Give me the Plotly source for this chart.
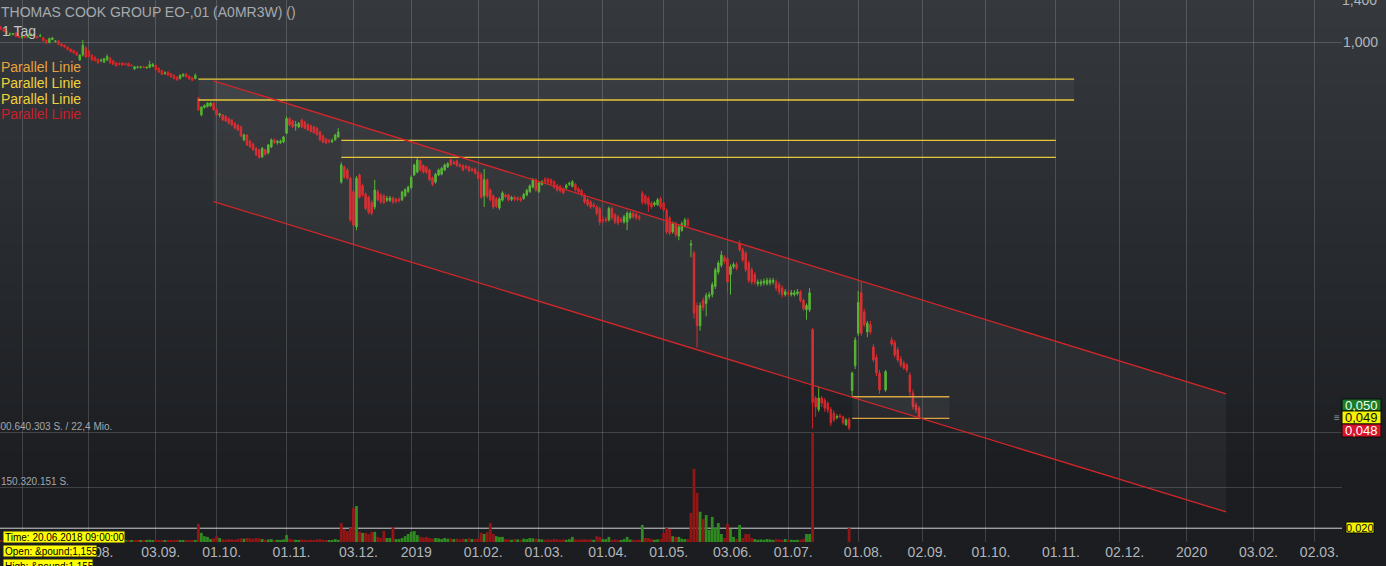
import math
import pandas as pd
import plotly.graph_objects as go

# ---------------- data ----------------
CAL_START = "2018-06-20"
CAL_END = "2020-03-31"
HOLIDAYS = ["2018-08-27", "2018-12-25", "2018-12-26", "2019-01-01", "2019-04-19",
            "2019-04-22", "2019-05-06", "2019-05-27", "2019-08-26", "2019-12-25"]

TICK_DATES = ["2018-07-02", "2018-08-01", "2018-09-03", "2018-10-01", "2018-11-01", "2018-12-03",
              "2019-01-02", "2019-02-01", "2019-03-01", "2019-04-01", "2019-05-01", "2019-06-03",
              "2019-07-01", "2019-08-01", "2019-09-02", "2019-10-01", "2019-11-01", "2019-12-02",
              "2020-01-02", "2020-02-03", "2020-03-02"]
TICK_LABELS = ["02.07.", "01.08.", "03.09.", "01.10.", "01.11.", "03.12.", "2019", "01.02.", "01.03.",
               "01.04.", "01.05.", "03.06.", "01.07.", "01.08.", "02.09.", "01.10.", "01.11.", "02.12.",
               "2020", "03.02.", "02.03."]

OPEN = [1.155, 1.128, 1.110, 1.090, 1.060, 1.062, 1.075, 1.050, 1.035, 1.050,
        1.040, 1.055, 1.066, 1.045, 1.048, 1.036, 1.015, 0.995, 1.020, 1.004,
        1.010, 0.985, 0.975, 0.960, 0.945, 0.935, 0.920, 0.865, 0.900, 0.955,
        0.930, 0.900, 0.885, 0.870, 0.860, 0.850, 0.865, 0.880, 0.860, 0.845,
        0.840, 0.845, 0.840, 0.843, 0.830, 0.805, 0.815, 0.815, 0.820, 0.812,
        0.815, 0.822, 0.830, 0.810, 0.795, 0.775, 0.785, 0.775, 0.765, 0.755,
        0.745, 0.760, 0.775, 0.760, 0.750, 0.745, 0.638, 0.556, 0.590, 0.595,
        0.598, 0.612, 0.580, 0.556, 0.556, 0.550, 0.540, 0.534, 0.520, 0.513,
        0.505, 0.455, 0.473, 0.450, 0.440, 0.425, 0.420, 0.397, 0.420, 0.410,
        0.430, 0.455, 0.445, 0.445, 0.447, 0.480, 0.540, 0.530, 0.510, 0.505,
        0.534, 0.525, 0.515, 0.510, 0.505, 0.500, 0.485, 0.470, 0.458, 0.452,
        0.448, 0.455, 0.466, 0.324, 0.366, 0.357, 0.334, 0.300, 0.226, 0.343,
        0.315, 0.294, 0.287, 0.275, 0.265, 0.300, 0.292, 0.290, 0.280, 0.280,
        0.285, 0.282, 0.282, 0.281, 0.290, 0.300, 0.310, 0.343, 0.351, 0.385,
        0.370, 0.365, 0.357, 0.335, 0.324, 0.343, 0.345, 0.357, 0.366, 0.387,
        0.380, 0.384, 0.372, 0.370, 0.368, 0.366, 0.360, 0.360, 0.350, 0.345,
        0.290, 0.330, 0.304, 0.290, 0.283, 0.263, 0.280, 0.292, 0.292, 0.282,
        0.286, 0.285, 0.284, 0.284, 0.292, 0.300, 0.311, 0.330, 0.300, 0.318,
        0.333, 0.332, 0.330, 0.325, 0.316, 0.313, 0.307, 0.309, 0.318, 0.313,
        0.318, 0.307, 0.303, 0.292, 0.281, 0.276, 0.270, 0.265, 0.262, 0.240,
        0.240, 0.239, 0.262, 0.249, 0.245, 0.240, 0.235, 0.235, 0.243, 0.252,
        0.250, 0.245, 0.297, 0.290, 0.285, 0.274, 0.270, 0.270, 0.284, 0.274,
        0.259, 0.243, 0.217, 0.232, 0.210, 0.220, 0.228, 0.239, 0.195, 0.183,
        0.120, 0.102, 0.125, 0.122, 0.129, 0.131, 0.140, 0.157, 0.166, 0.177,
        0.175, 0.154, 0.164, 0.167, 0.198, 0.188, 0.183, 0.169, 0.160, 0.154,
        0.143, 0.143, 0.144, 0.143, 0.144, 0.145, 0.145, 0.142, 0.138, 0.131,
        0.133, 0.131, 0.131, 0.132, 0.134, 0.125, 0.116, 0.116, 0.099, 0.057,
        0.052, 0.057, 0.056, 0.0547, 0.052, 0.0505, 0.0487, 0.0494, 0.049, 0.046,
        0.048, 0.0605, 0.074, 0.096, 0.133, 0.114, 0.097, 0.103, 0.086, 0.079,
        0.0697, None, 0.0608, None, 0.091, 0.089, 0.084, 0.078, 0.0755, 0.0744,
        0.0686, 0.0593, 0.054, 0.0526]

HIGH = [1.165, 1.140, 1.118, 1.095, 1.080, 1.076, 1.080, 1.056, 1.058, 1.055,
        1.066, 1.072, 1.070, 1.050, 1.068, 1.040, 1.020, 1.035, 1.040, 1.016,
        1.014, 0.990, 0.980, 0.965, 0.950, 0.940, 0.925, 0.905, 1.016, 0.965,
        0.935, 0.905, 0.890, 0.875, 0.875, 0.880, 0.905, 0.885, 0.865, 0.850,
        0.850, 0.850, 0.848, 0.848, 0.838, 0.825, 0.826, 0.825, 0.826, 0.822,
        0.860, 0.845, 0.834, 0.815, 0.800, 0.790, 0.790, 0.780, 0.770, 0.760,
        0.770, 0.778, 0.780, 0.765, 0.755, 0.775, 0.640, 0.595, 0.605, 0.615,
        0.618, 0.616, 0.585, 0.565, 0.560, 0.555, 0.545, 0.538, 0.525, 0.516,
        0.510, 0.478, 0.476, 0.455, 0.445, 0.430, 0.424, 0.430, 0.425, 0.440,
        0.460, 0.460, 0.455, 0.456, 0.470, 0.550, 0.545, 0.535, 0.530, 0.525,
        0.540, 0.530, 0.520, 0.515, 0.510, 0.505, 0.490, 0.474, 0.462, 0.458,
        0.460, 0.478, 0.500, 0.380, 0.370, 0.362, 0.338, 0.305, 0.340, 0.348,
        0.320, 0.298, 0.290, 0.280, 0.330, 0.305, 0.296, 0.294, 0.290, 0.290,
        0.288, 0.286, 0.286, 0.302, 0.308, 0.315, 0.342, 0.376, 0.395, 0.389,
        0.374, 0.369, 0.361, 0.339, 0.349, 0.361, 0.366, 0.376, 0.380, 0.395,
        0.386, 0.388, 0.378, 0.374, 0.372, 0.370, 0.364, 0.364, 0.354, 0.350,
        0.360, 0.334, 0.308, 0.294, 0.287, 0.287, 0.301, 0.296, 0.295, 0.290,
        0.290, 0.289, 0.288, 0.297, 0.307, 0.318, 0.335, 0.334, 0.326, 0.329,
        0.337, 0.336, 0.334, 0.329, 0.320, 0.317, 0.311, 0.320, 0.325, 0.329,
        0.322, 0.311, 0.307, 0.296, 0.285, 0.280, 0.274, 0.269, 0.266, 0.246,
        0.245, 0.266, 0.266, 0.253, 0.249, 0.244, 0.249, 0.256, 0.256, 0.256,
        0.254, 0.249, 0.302, 0.294, 0.289, 0.278, 0.278, 0.285, 0.288, 0.278,
        0.262, 0.247, 0.236, 0.236, 0.230, 0.236, 0.243, 0.243, 0.203, 0.186,
        0.123, 0.123, 0.128, 0.133, 0.134, 0.145, 0.163, 0.172, 0.186, 0.180,
        0.178, 0.167, 0.170, 0.170, 0.203, 0.191, 0.186, 0.172, 0.163, 0.157,
        0.148, 0.148, 0.149, 0.150, 0.150, 0.150, 0.148, 0.145, 0.141, 0.137,
        0.136, 0.136, 0.136, 0.137, 0.136, 0.127, 0.122, 0.138, 0.100, 0.058,
        0.0625, 0.058, 0.057, 0.0555, 0.053, 0.0515, 0.050, 0.0502, 0.0495, 0.0485,
        0.0488, 0.0705, 0.093, 0.135, 0.145, 0.117, 0.106, 0.106, 0.088, 0.081,
        0.0715, None, 0.0715, None, 0.093, 0.091, 0.086, 0.080, 0.077, 0.0755,
        0.070, 0.061, 0.055, 0.0535]

LOW = [1.120, 1.100, 1.082, 1.062, 1.050, 1.055, 1.040, 1.032, 1.030, 1.030,
       1.035, 1.050, 1.040, 1.028, 1.040, 1.005, 0.985, 0.990, 1.015, 0.996,
       0.975, 0.962, 0.955, 0.935, 0.920, 0.910, 0.895, 0.860, 0.890, 0.880,
       0.885, 0.860, 0.855, 0.840, 0.850, 0.845, 0.860, 0.840, 0.830, 0.820,
       0.828, 0.826, 0.828, 0.820, 0.820, 0.800, 0.808, 0.808, 0.810, 0.806,
       0.810, 0.818, 0.795, 0.780, 0.765, 0.770, 0.760, 0.750, 0.740, 0.732,
       0.740, 0.755, 0.750, 0.738, 0.730, 0.740, 0.574, 0.550, 0.585, 0.590,
       0.594, 0.575, 0.552, 0.545, 0.530, 0.526, 0.516, 0.508, 0.496, 0.488,
       0.466, 0.450, 0.433, 0.426, 0.416, 0.399, 0.391, 0.393, 0.400, 0.405,
       0.426, 0.440, 0.438, 0.440, 0.443, 0.476, 0.508, 0.500, 0.490, 0.500,
       0.500, 0.496, 0.489, 0.483, 0.478, 0.470, 0.450, 0.443, 0.440, 0.443,
       0.444, 0.452, 0.462, 0.320, 0.333, 0.330, 0.235, 0.195, 0.220, 0.283,
       0.288, 0.258, 0.250, 0.248, 0.260, 0.277, 0.272, 0.271, 0.276, 0.276,
       0.272, 0.273, 0.275, 0.278, 0.287, 0.297, 0.306, 0.340, 0.348, 0.353,
       0.347, 0.346, 0.326, 0.314, 0.320, 0.340, 0.342, 0.354, 0.363, 0.368,
       0.372, 0.366, 0.364, 0.353, 0.359, 0.351, 0.352, 0.344, 0.330, 0.283,
       0.265, 0.285, 0.277, 0.261, 0.263, 0.259, 0.277, 0.284, 0.277, 0.278,
       0.278, 0.278, 0.276, 0.281, 0.289, 0.297, 0.308, 0.300, 0.297, 0.315,
       0.320, 0.318, 0.316, 0.307, 0.300, 0.298, 0.293, 0.306, 0.314, 0.310,
       0.300, 0.295, 0.288, 0.272, 0.266, 0.261, 0.262, 0.248, 0.229, 0.233,
       0.234, 0.236, 0.239, 0.231, 0.229, 0.233, 0.232, 0.220, 0.240, 0.241,
       0.239, 0.238, 0.270, 0.270, 0.255, 0.261, 0.266, 0.267, 0.261, 0.255,
       0.213, 0.211, 0.214, 0.208, 0.203, 0.217, 0.225, 0.225, 0.177, 0.108,
       0.0856, 0.098, 0.115, 0.110, 0.126, 0.128, 0.137, 0.154, 0.163, 0.168,
       0.133, 0.131, 0.161, 0.159, 0.185, 0.170, 0.157, 0.144, 0.142, 0.142,
       0.140, 0.140, 0.141, 0.141, 0.141, 0.142, 0.135, 0.131, 0.128, 0.129,
       0.129, 0.129, 0.129, 0.130, 0.123, 0.115, 0.107, 0.114, 0.0446, 0.049,
       0.051, 0.053, 0.051, 0.0505, 0.0455, 0.047, 0.048, 0.0485, 0.046, 0.0455,
       0.044, 0.058, 0.072, 0.094, 0.094, 0.101, 0.093, 0.095, 0.076, 0.068,
       0.059, None, 0.060, None, 0.0865, 0.079, 0.076, 0.073, 0.0715, 0.070,
       0.058, 0.052, 0.0505, 0.048]

CLOSE = [1.128, 1.110, 1.090, 1.068, 1.066, 1.070, 1.045, 1.038, 1.050, 1.036,
         1.060, 1.066, 1.045, 1.034, 1.052, 1.010, 0.990, 1.028, 1.034, 1.008,
         0.980, 0.968, 0.960, 0.940, 0.925, 0.915, 0.900, 0.900, 0.975, 0.886,
         0.890, 0.865, 0.860, 0.845, 0.865, 0.875, 0.890, 0.845, 0.835, 0.825,
         0.836, 0.830, 0.835, 0.825, 0.828, 0.820, 0.818, 0.818, 0.815, 0.816,
         0.835, 0.836, 0.800, 0.785, 0.770, 0.780, 0.765, 0.755, 0.745, 0.737,
         0.765, 0.770, 0.755, 0.742, 0.735, 0.765, 0.579, 0.593, 0.600, 0.612,
         0.612, 0.579, 0.556, 0.560, 0.534, 0.530, 0.520, 0.513, 0.500, 0.493,
         0.470, 0.473, 0.437, 0.430, 0.420, 0.403, 0.395, 0.425, 0.405, 0.437,
         0.455, 0.445, 0.449, 0.450, 0.466, 0.540, 0.513, 0.505, 0.514, 0.520,
         0.505, 0.500, 0.493, 0.487, 0.482, 0.475, 0.455, 0.447, 0.444, 0.448,
         0.452, 0.473, 0.485, 0.372, 0.337, 0.334, 0.239, 0.229, 0.334, 0.287,
         0.292, 0.262, 0.254, 0.252, 0.304, 0.281, 0.276, 0.275, 0.284, 0.285,
         0.276, 0.277, 0.279, 0.299, 0.305, 0.311, 0.337, 0.372, 0.387, 0.357,
         0.351, 0.350, 0.330, 0.318, 0.345, 0.357, 0.362, 0.372, 0.376, 0.372,
         0.376, 0.370, 0.368, 0.357, 0.363, 0.355, 0.356, 0.348, 0.334, 0.287,
         0.330, 0.289, 0.281, 0.265, 0.267, 0.283, 0.297, 0.288, 0.281, 0.286,
         0.282, 0.282, 0.280, 0.293, 0.303, 0.314, 0.330, 0.304, 0.322, 0.325,
         0.324, 0.322, 0.320, 0.311, 0.304, 0.302, 0.297, 0.316, 0.321, 0.325,
         0.304, 0.299, 0.292, 0.276, 0.270, 0.265, 0.266, 0.252, 0.235, 0.237,
         0.238, 0.262, 0.243, 0.235, 0.233, 0.237, 0.245, 0.252, 0.252, 0.245,
         0.243, 0.242, 0.275, 0.274, 0.270, 0.265, 0.274, 0.281, 0.265, 0.259,
         0.217, 0.215, 0.232, 0.212, 0.226, 0.232, 0.239, 0.229, 0.197, 0.113,
         0.102, 0.120, 0.118, 0.130, 0.131, 0.142, 0.160, 0.169, 0.180, 0.171,
         0.145, 0.164, 0.167, 0.162, 0.188, 0.173, 0.160, 0.147, 0.145, 0.145,
         0.145, 0.145, 0.146, 0.147, 0.147, 0.147, 0.138, 0.134, 0.131, 0.134,
         0.132, 0.133, 0.133, 0.134, 0.125, 0.117, 0.120, 0.133, 0.055, 0.053,
         0.057, 0.0547, 0.0526, 0.0518, 0.0467, 0.0478, 0.0491, 0.049, 0.0467, 0.0478,
         0.0448, 0.0697, 0.091, 0.123, 0.096, 0.103, 0.104, 0.097, 0.0775, 0.0697,
         0.0608, None, 0.0705, None, 0.088, 0.0806, 0.0774, 0.0744, 0.0726, 0.0714,
         0.0598, 0.0532, 0.0518, 0.049]

VOLUME_MIO = [6, 5, 4, 5, 3, 4, 6, 5, 4, 3,
              5, 4, 6, 3, 4, 5, 7, 6, 4, 3,
              5, 4, 4, 6, 5, 3, 4, 8, 12, 7,
              6, 5, 4, 3, 4, 5, 6, 4, 5, 3,
              3, 4, 3, 4, 3, 5, 3, 4, 3, 4,
              6, 5, 4, 5, 3, 4, 3, 5, 4, 3,
              5, 4, 3, 4, 5, 5, 50, 25, 16, 14,
              8, 10, 16, 11, 7, 6, 8, 7, 6, 8,
              10, 9, 11, 10, 9, 11, 10, 8, 6, 7,
              8, 5, 6, 5, 7, 19, 9, 7, 6, 5,
              7, 6, 5, 6, 5, 7, 8, 6, 5, 4,
              5, 8, 6, 52, 36, 30, 39, 94, 99, 28,
              25, 25, 22, 28, 28, 14, 11, 30, 11, 11,
              41, 8, 8, 11, 16, 22, 28, 30, 19, 14,
              12, 14, 11, 9, 11, 10, 8, 11, 9, 10,
              8, 9, 7, 9, 8, 10, 8, 8, 9, 25,
              22, 27, 52, 22, 16, 14, 14, 8, 7, 6,
              8, 7, 6, 9, 8, 11, 10, 9, 8, 7,
              6, 7, 6, 8, 7, 6, 7, 6, 8, 14,
              7, 6, 7, 8, 6, 7, 6, 16, 14, 8,
              8, 14, 6, 7, 6, 5, 8, 14, 7, 6,
              5, 6, 47, 11, 11, 8, 6, 7, 8, 25,
              39, 36, 16, 14, 14, 9, 8, 8, 80, 201,
              135, 83, 63, 74, 33, 69, 39, 52, 22, 11,
              50, 36, 14, 8, 47, 11, 22, 22, 11, 8,
              6, 7, 6, 8, 7, 5, 8, 7, 6, 8,
              5, 6, 5, 6, 6, 8, 22, 22, 300.64, 0,
              0, 0, 0, 0, 0, 0, 0, 0, 0, 0,
              38, 0, 0, 0, 0, 0, 0, 0, 0, 0,
              0, 0, 0, 0, 0, 0, 0, 0, 0, 0,
              0, 0, 0, 0]

VOLUME_GRID_MIO = [150.320151, 300.640303]

CHANNEL_DATES = ["2018-09-28", "2020-01-21"]
CHANNEL_UPPER = [0.732, 0.0589]
CHANNEL_LOWER = [0.277, 0.0228]

PARALLEL_1_DATES = ["2018-09-21", "2019-11-11"]
PARALLEL_1_LEVELS = [0.742, 0.627]
PARALLEL_2_DATES = ["2018-11-27", "2019-11-01"]
PARALLEL_2_LEVELS = [0.4535, 0.3955]
PARALLEL_3_DATES = ["2019-07-30", "2019-09-13"]
PARALLEL_3_LEVELS = [0.0576, 0.0484]

MARKER_LEVEL = 0.020
PRICE_TICKS = [1.0]
PRICE_TICK_LABELS = ["1,000"]
TOP_PRICE_LABEL = "1,400"

# ---------------- calendar / positions ----------------
days = pd.bdate_range(CAL_START, CAL_END)
days = days[~days.isin(pd.to_datetime(HOLIDAYS))]
POS = {d.strftime("%Y-%m-%d"): i for i, d in enumerate(days)}
xs = list(range(len(CLOSE)))

# ---------------- styling ----------------
W, H = 1386, 566
ML, MR, MT, MB = 0, 44, 0, 24
PW, PH = W - ML - MR, H - MT - MB
X_RANGE = [0.766, 442.1]
Y_RANGE = [math.log10(0.01790), math.log10(1.402)]
V_RANGE = [0, 1488.0]

GREEN = "#52b22e"
RED = "#d8262a"
VOL_UP = "#2f8a1f"
VOL_DOWN = "#931616"
GRID = "rgba(255,255,255,0.16)"
FONT = "Liberation Sans, Arial, sans-serif"
AXIS_TXT = "#b2b6ba"
YELLOW_LINE = "#e6c83a"
ORANGE_LINE = "#d9a444"
CHANNEL_RED = "#d2262a"
SHADE = "rgba(255,255,255,0.045)"


def px_x(px):
    return (px - ML) / PW


def px_y(py):
    return 1 - (py - MT) / PH


fig = go.Figure()


def band(dates, levels, color):
    x0, x1 = POS[dates[0]], POS[dates[1]]
    fig.add_trace(go.Scatter(x=[x0, x1, x1, x0, x0],
                             y=[levels[0], levels[0], levels[1], levels[1], levels[0]],
                             mode="lines", line=dict(width=0), fill="toself",
                             fillcolor=SHADE, hoverinfo="skip", showlegend=False))
    fig.add_trace(go.Scatter(x=[x0, x1, None, x0, x1],
                             y=[levels[0], levels[0], None, levels[1], levels[1]],
                             mode="lines", line=dict(width=1.3, color=color),
                             hoverinfo="skip", showlegend=False))


# channel fill + lines
cx0, cx1 = POS[CHANNEL_DATES[0]], POS[CHANNEL_DATES[1]]
fig.add_trace(go.Scatter(x=[cx0, cx1, cx1, cx0, cx0],
                         y=[CHANNEL_UPPER[0], CHANNEL_UPPER[1], CHANNEL_LOWER[1], CHANNEL_LOWER[0], CHANNEL_UPPER[0]],
                         mode="lines", line=dict(width=0), fill="toself", fillcolor=SHADE,
                         hoverinfo="skip", showlegend=False))
band(PARALLEL_1_DATES, PARALLEL_1_LEVELS, YELLOW_LINE)
band(PARALLEL_2_DATES, PARALLEL_2_LEVELS, YELLOW_LINE)
band(PARALLEL_3_DATES, PARALLEL_3_LEVELS, ORANGE_LINE)
fig.add_trace(go.Scatter(x=[cx0, cx1, None, cx0, cx1],
                         y=[CHANNEL_UPPER[0], CHANNEL_UPPER[1], None, CHANNEL_LOWER[0], CHANNEL_LOWER[1]],
                         mode="lines", line=dict(width=1.3, color=CHANNEL_RED),
                         hoverinfo="skip", showlegend=False))

# 0,020 marker line
fig.add_trace(go.Scatter(x=[X_RANGE[0] - 5, X_RANGE[1] + 5], y=[MARKER_LEVEL, MARKER_LEVEL],
                         mode="lines", line=dict(width=1, color="#d4d4d4"),
                         hoverinfo="skip", showlegend=False))

# candles
fig.add_trace(go.Candlestick(
    x=xs, open=OPEN, high=HIGH, low=LOW, close=CLOSE,
    increasing=dict(line=dict(color=GREEN, width=1), fillcolor=GREEN),
    decreasing=dict(line=dict(color=RED, width=1), fillcolor=RED),
    whiskerwidth=0, showlegend=False))

# volume colours by close-to-close change
vol_colors = []
prev = OPEN[0]
for c in CLOSE:
    if c is None:
        vol_colors.append(VOL_UP)
        continue
    vol_colors.append(VOL_UP if c >= prev else VOL_DOWN)
    prev = c

fig.add_trace(go.Bar(x=xs, y=VOLUME_MIO, yaxis="y2", marker=dict(color=vol_colors, line=dict(width=0)),
                     hoverinfo="skip", showlegend=False))

# ---------------- background gradient ----------------
shapes = []
BG_TOP = (53, 57, 61)
BG_BOT = (27, 29, 33)
N_BANDS = 60
for k in range(N_BANDS):
    p0 = k * H / N_BANDS
    p1 = (k + 1) * H / N_BANDS + 0.8
    t = min(1.0, ((p0 + p1) / 2) / 480.0)
    col = tuple(round(a + (b - a) * t) for a, b in zip(BG_TOP, BG_BOT))
    shapes.append(dict(type="rect", xref="paper", yref="paper", x0=-0.01, x1=1.06,
                       y0=px_y(p1), y1=px_y(p0), fillcolor="rgb(%d,%d,%d)" % col,
                       line=dict(width=0), layer="below"))

annotations = []


def label(text, px, py, size, color, anchor="left"):
    annotations.append(dict(text=text, x=px_x(px), y=px_y(py), xref="paper", yref="paper",
                            xanchor=anchor, yanchor="middle", showarrow=False,
                            font=dict(size=size, color=color, family=FONT),
                            borderpad=0, borderwidth=0))


def box(x0, x1, y0, y1, fill, border="#111111"):
    shapes.append(dict(type="rect", xref="paper", yref="paper", x0=px_x(x0), x1=px_x(x1),
                       y0=px_y(y1), y1=px_y(y0), fillcolor=fill,
                       line=dict(width=1, color=border), layer="above"))


# header / legend texts
label("THOMAS COOK GROUP EO-,01 (A0MR3W) ()", 1, 12, 14, "#a6aaae")
label("1 Tag", 2, 31, 14, "#c2c4c6")
label("Parallel Linie", 1, 66.5, 14, "#e8a23c")
label("Parallel Linie", 1, 82.5, 14, "#f0d23a")
label("Parallel Linie", 1, 98.5, 14, "#f0d23a")
label("Parallel Linie", 1, 114.5, 14, "#c8202a")

# top price label (sits on the upper edge, half cut like the original)
label(TOP_PRICE_LABEL, 1342, 0, 14, AXIS_TXT)

# volume scale labels
label("300.640.303 S. / 22,4 Mio.", -5, 426.5, 10, "#a4a8ac")
label("150.320.151 S.", 1, 481.5, 10, "#a4a8ac")

# right price boxes
box(1342, 1381, 399, 411, "#1d7a28", "#0a0a0a")
label("0,050", 1361.5, 405.5, 13, "#e8ffe8", "center")
box(1342, 1381, 411, 424, "#f4f400", "#0a0a0a")
label("0,049", 1361.5, 417.5, 13, "#111111", "center")
box(1342, 1381, 424, 437, "#d8122a", "#0a0a0a")
label("0,048", 1361.5, 430.5, 13, "#ffffff", "center")
label("≡", 1337, 417, 10, "#8c9094", "center")
box(1346, 1374, 522, 533, "#f4f400", "#0a0a0a")
label("0,020", 1360, 527.5, 11, "#111111", "center")

# bottom-left info boxes
box(3, 125, 531, 543, "#ffff00", "#222222")
label("Time: 20.06.2018 09:00:00", 5, 537, 10, "#000000")
box(3, 97, 545, 557, "#ffff00", "#222222")
label("Open: &amp;pound;1,155", 5, 551, 10, "#000000")
box(3, 93, 559, 571, "#ffff00", "#222222")
label("High: &amp;pound;1,155", 5, 566, 10, "#000000")

fig.update_layout(
    width=W, height=H,
    margin=dict(l=ML, r=MR, t=MT, b=MB, autoexpand=False),
    paper_bgcolor="#1c1e22", plot_bgcolor="rgba(0,0,0,0)",
    font=dict(family=FONT, color=AXIS_TXT),
    showlegend=False, bargap=0.08, hovermode=False,
    shapes=shapes, annotations=annotations,
    xaxis=dict(range=X_RANGE, tickvals=[POS[d] for d in TICK_DATES], ticktext=TICK_LABELS,
               showgrid=True, gridcolor=GRID, gridwidth=1, zeroline=False, showline=False,
               ticks="", tickfont=dict(size=14, color=AXIS_TXT), rangeslider=dict(visible=False),
               ticklabelshift=5, automargin=False, fixedrange=True),
    yaxis=dict(type="log", range=Y_RANGE, side="right", tickvals=PRICE_TICKS, ticktext=PRICE_TICK_LABELS,
               showgrid=True, gridcolor=GRID, zeroline=False, showline=False, ticks="",
               tickfont=dict(size=14, color=AXIS_TXT), automargin=False, fixedrange=True),
    yaxis2=dict(overlaying="y", range=V_RANGE, tickvals=VOLUME_GRID_MIO, showticklabels=False,
                showgrid=True, gridcolor=GRID, zeroline=False, showline=False, ticks="",
                automargin=False, fixedrange=True),
)

fig.write_html("out.html", config={"displayModeBar": False},
               post_script="document.body.style.margin='0';document.body.style.overflow='hidden';")
